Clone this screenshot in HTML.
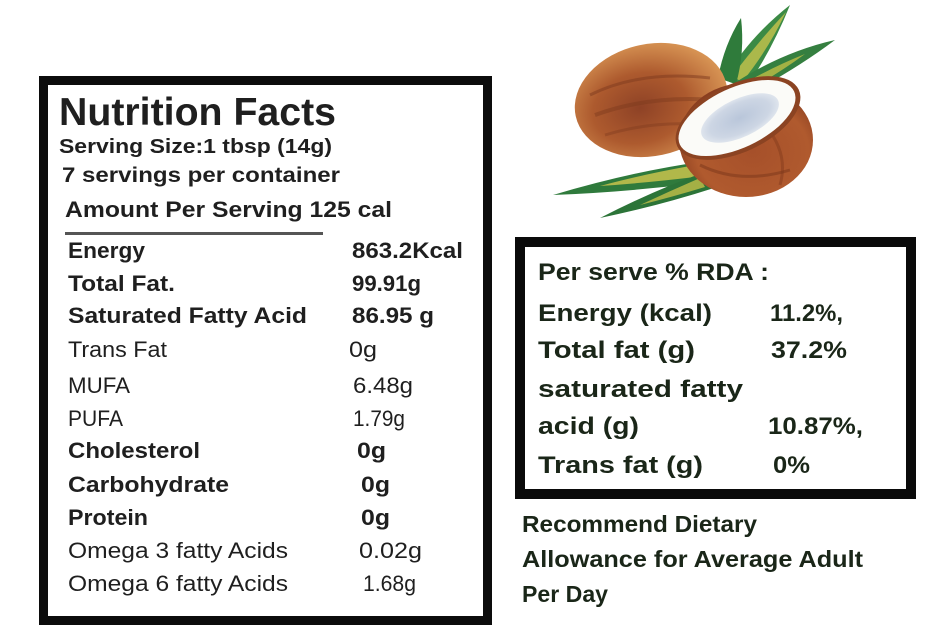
<!DOCTYPE html>
<html>
<head>
<meta charset="utf-8">
<style>
html,body{margin:0;padding:0;background:#fff;}
svg{display:block;}
.b{font-family:"Liberation Sans",sans-serif;font-weight:700;}
.l{font-family:"Liberation Sans",sans-serif;font-weight:400;}
</style>
</head>
<body>
<svg width="940" height="637" viewBox="0 0 940 637" xmlns="http://www.w3.org/2000/svg">
<defs>
  <radialGradient id="whole" cx="0.42" cy="0.55" r="0.62">
    <stop offset="0" stop-color="#8e4226"/>
    <stop offset="0.5" stop-color="#ad5a2e"/>
    <stop offset="1" stop-color="#dc9a58"/>
  </radialGradient>
  <radialGradient id="shell" cx="0.55" cy="0.6" r="0.6">
    <stop offset="0" stop-color="#a6502a"/>
    <stop offset="0.7" stop-color="#b05a2e"/>
    <stop offset="1" stop-color="#8a3e20"/>
  </radialGradient>
  <radialGradient id="meat" cx="0.5" cy="0.5" r="0.55">
    <stop offset="0" stop-color="#b9c6da"/>
    <stop offset="0.7" stop-color="#cdd6e4"/>
    <stop offset="1" stop-color="#e6ebf1"/>
  </radialGradient>
</defs>

<!-- Coconut illustration -->
<!-- top leaves -->
<path d="M724,80 Q748,38 790,5 Q772,50 746,88 Z" fill="#3b8a45"/>
<path d="M732,76 Q758,42 786,12 Q768,50 742,82 Z" fill="#c8c34c" opacity="0.8"/>
<path d="M718,78 Q724,45 741,18 Q745,52 736,84 Z" fill="#2f7b3b"/>
<path d="M733,84 Q782,52 835,40 Q795,70 745,96 Z" fill="#357f40"/>
<path d="M740,86 Q770,68 805,54 Q778,74 748,90 Z" fill="#bfbe45" opacity="0.8"/>
<!-- whole coconut -->
<ellipse cx="651" cy="100" rx="77" ry="56" transform="rotate(-12 651 100)" fill="url(#whole)"/>
<path d="M590,95 Q640,70 710,78" stroke="#7d3a1d" stroke-width="3" fill="none" opacity="0.5"/>
<path d="M595,115 Q650,95 715,100" stroke="#7d3a1d" stroke-width="4" fill="none" opacity="0.45"/>
<path d="M605,135 Q655,120 705,125" stroke="#7d3a1d" stroke-width="3" fill="none" opacity="0.4"/>
<!-- bottom leaves -->
<path d="M700,162 Q630,172 553,195 Q630,192 706,182 Z" fill="#2f7a3c"/>
<path d="M690,166 Q640,175 600,186 Q645,183 695,177 Z" fill="#c8c34c" opacity="0.85"/>
<path d="M705,172 Q650,192 600,218 Q658,206 714,188 Z" fill="#2c7438"/>
<path d="M700,178 Q670,191 640,205 Q672,197 705,187 Z" fill="#c3bf48" opacity="0.8"/>
<!-- half coconut shell -->
<ellipse cx="746" cy="140" rx="67" ry="57" fill="url(#shell)"/>
<path d="M700,165 Q740,185 790,170" stroke="#7a3519" stroke-width="3" fill="none" opacity="0.5"/>
<path d="M760,120 Q790,150 780,185" stroke="#7a3519" stroke-width="3" fill="none" opacity="0.4"/>
<!-- face -->
<ellipse cx="738" cy="118" rx="67" ry="34" transform="rotate(-25 738 118)" fill="#8b4322"/>
<ellipse cx="737" cy="118" rx="63" ry="30" transform="rotate(-25 737 118)" fill="#fbfbf8"/>
<ellipse cx="740" cy="118" rx="42" ry="19" transform="rotate(-25 740 118)" fill="url(#meat)"/>

<!-- Left nutrition box -->
<rect x="43.5" y="80.5" width="444" height="540" fill="#fff" stroke="#0c0c0c" stroke-width="9"/>
<g fill="#1f1f1f">
<text class="b" x="59" y="125" font-size="39" textLength="277" lengthAdjust="spacingAndGlyphs">Nutrition Facts</text>
<text class="b" x="59" y="153" font-size="20" textLength="273" lengthAdjust="spacingAndGlyphs">Serving Size:1 tbsp (14g)</text>
<text class="b" x="62" y="182" font-size="21" textLength="278" lengthAdjust="spacingAndGlyphs">7 servings per container</text>
<text class="b" x="65" y="217" font-size="22" textLength="327" lengthAdjust="spacingAndGlyphs">Amount Per Serving 125 cal</text>
<rect x="65" y="232" width="258" height="3" fill="#555"/>

<text class="b" x="68" y="258" font-size="22" textLength="77" lengthAdjust="spacingAndGlyphs">Energy</text>
<text class="b" x="352" y="258" font-size="22" textLength="111" lengthAdjust="spacingAndGlyphs">863.2Kcal</text>

<text class="b" x="68" y="291" font-size="22" textLength="107" lengthAdjust="spacingAndGlyphs">Total Fat.</text>
<text class="b" x="352" y="291" font-size="22" textLength="69" lengthAdjust="spacingAndGlyphs">99.91g</text>

<text class="b" x="68" y="323" font-size="22" textLength="239" lengthAdjust="spacingAndGlyphs">Saturated Fatty Acid</text>
<text class="b" x="352" y="323" font-size="22" textLength="82" lengthAdjust="spacingAndGlyphs">86.95 g</text>

<text class="l" x="68" y="357" font-size="22" textLength="99" lengthAdjust="spacingAndGlyphs">Trans Fat</text>
<text class="l" x="349" y="357" font-size="22" textLength="28" lengthAdjust="spacingAndGlyphs">0g</text>

<text class="l" x="68" y="393" font-size="22" textLength="62" lengthAdjust="spacingAndGlyphs">MUFA</text>
<text class="l" x="353" y="393" font-size="22" textLength="60" lengthAdjust="spacingAndGlyphs">6.48g</text>

<text class="l" x="68" y="426" font-size="22" textLength="55" lengthAdjust="spacingAndGlyphs">PUFA</text>
<text class="l" x="353" y="426" font-size="22" textLength="52" lengthAdjust="spacingAndGlyphs">1.79g</text>

<text class="b" x="68" y="458" font-size="22" textLength="132" lengthAdjust="spacingAndGlyphs">Cholesterol</text>
<text class="b" x="357" y="458" font-size="22" textLength="29" lengthAdjust="spacingAndGlyphs">0g</text>

<text class="b" x="68" y="492" font-size="22" textLength="161" lengthAdjust="spacingAndGlyphs">Carbohydrate</text>
<text class="b" x="361" y="492" font-size="22" textLength="29" lengthAdjust="spacingAndGlyphs">0g</text>

<text class="b" x="68" y="525" font-size="22" textLength="80" lengthAdjust="spacingAndGlyphs">Protein</text>
<text class="b" x="361" y="525" font-size="22" textLength="29" lengthAdjust="spacingAndGlyphs">0g</text>

<text class="l" x="68" y="558" font-size="22" textLength="220" lengthAdjust="spacingAndGlyphs">Omega 3 fatty Acids</text>
<text class="l" x="359" y="558" font-size="22" textLength="63" lengthAdjust="spacingAndGlyphs">0.02g</text>

<text class="l" x="68" y="591" font-size="22" textLength="220" lengthAdjust="spacingAndGlyphs">Omega 6 fatty Acids</text>
<text class="l" x="363" y="591" font-size="22" textLength="53" lengthAdjust="spacingAndGlyphs">1.68g</text>
</g>

<!-- Right RDA box -->
<rect x="520" y="242" width="391" height="252" fill="#fff" stroke="#0a0a0a" stroke-width="10"/>
<g fill="#1a2618">
<text class="b" x="538" y="280" font-size="24" textLength="231" lengthAdjust="spacingAndGlyphs">Per serve % RDA :</text>
<text class="b" x="538" y="321" font-size="24" textLength="174" lengthAdjust="spacingAndGlyphs">Energy (kcal)</text>
<text class="b" x="770" y="321" font-size="24" textLength="73" lengthAdjust="spacingAndGlyphs">11.2%,</text>
<text class="b" x="538" y="358" font-size="24" textLength="157" lengthAdjust="spacingAndGlyphs">Total fat (g)</text>
<text class="b" x="771" y="358" font-size="24" textLength="76" lengthAdjust="spacingAndGlyphs">37.2%</text>
<text class="b" x="538" y="397" font-size="24" textLength="205" lengthAdjust="spacingAndGlyphs">saturated fatty</text>
<text class="b" x="538" y="434" font-size="24" textLength="101" lengthAdjust="spacingAndGlyphs">acid (g)</text>
<text class="b" x="768" y="434" font-size="24" textLength="95" lengthAdjust="spacingAndGlyphs">10.87%,</text>
<text class="b" x="538" y="473" font-size="24" textLength="165" lengthAdjust="spacingAndGlyphs">Trans fat (g)</text>
<text class="b" x="773" y="473" font-size="24" textLength="37" lengthAdjust="spacingAndGlyphs">0%</text>

<text class="b" x="522" y="532" font-size="23" textLength="235" lengthAdjust="spacingAndGlyphs">Recommend Dietary</text>
<text class="b" x="522" y="567" font-size="23" textLength="341" lengthAdjust="spacingAndGlyphs">Allowance for Average Adult</text>
<text class="b" x="522" y="602" font-size="23" textLength="86" lengthAdjust="spacingAndGlyphs">Per Day</text>
</g>
</svg>
</body>
</html>
